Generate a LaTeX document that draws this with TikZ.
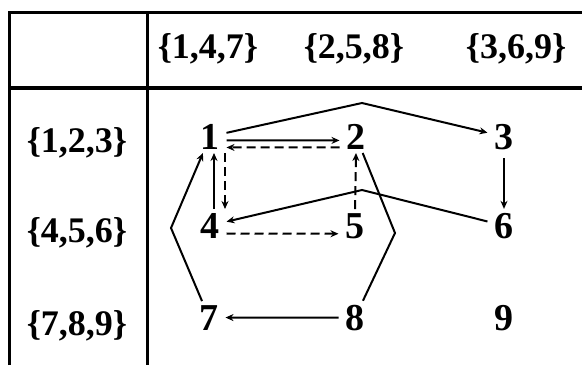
\documentclass[tikz,border=0pt]{standalone}
\usepackage{fontspec}
\setmainfont{Liberation Serif}
\usetikzlibrary{arrows.meta}

\begin{document}
\begin{tikzpicture}[x=1pt,y=-1pt,>={Stealth[length=8pt,width=7pt]},line width=2pt,
  vtx/.style={font=\fontsize{38}{40}\selectfont\bfseries,inner xsep=6pt,inner ysep=3pt,anchor=base},
  lbl/.style={font=\fontsize{36}{40}\selectfont\bfseries,anchor=base},
  dsh/.style={dash pattern=on 9pt off 5pt}]
\useasboundingbox (0,0) rectangle (582,365);
\draw[line width=3pt] (9,365) -- (9,12) -- (582,12);
\draw[line width=3pt] (147,12) -- (147,365);
\draw[line width=3.5pt] (9,88) -- (582,88);
\node[lbl] (c1) at (208,58) {\{1,4,7\}};
\node[lbl] (c2) at (354,58) {\{2,5,8\}};
\node[lbl] (c3) at (516,58) {\{3,6,9\}};
\node[lbl] (r1) at (77,152) {\{1,2,3\}};
\node[lbl] (r2) at (77,242) {\{4,5,6\}};
\node[lbl] (r3) at (77,335) {\{7,8,9\}};
\node[vtx] (n1) at (210,149) {1};
\node[vtx] (n2) at (356,149) {2};
\node[vtx] (n3) at (504,149) {3};
\node[vtx] (n4) at (210,238) {4};
\node[vtx] (n5) at (355,238) {5};
\node[vtx] (n6) at (504,238) {6};
\node[vtx] (n7) at (209,330) {7};
\node[vtx] (n8) at (355,330) {8};
\node[vtx] (n9) at (504,330) {9};
\coordinate (p13) at (362,103);
\coordinate (p64) at (362,190);
\coordinate (p71) at (171,228);
\coordinate (p28) at (395,233);
\draw[->] (n1) -- (p13) -- (n3);
\draw[->] ([yshift=-4pt]n1.east) -- ([yshift=-4pt]n2.west);
\draw[->,dsh] ([yshift=-11pt]n2.west) -- ([yshift=-11pt]n1.east);
\draw[->] ([xshift=4pt]n4.north) -- ([xshift=4pt]n1.south);
\draw[->,dsh] ([xshift=15pt]n1.south) -- ([xshift=15pt]n4.north);
\draw[->,dsh] (n5.north) -- (n2.south);
\draw[->,dsh] ([yshift=-8pt]n4.east) -- ([yshift=-8pt]n5.west);
\draw[->] (n6) -- (p64) -- (n4);
\draw[->,shorten <=5pt] (n3) -- (n6);
\draw[->] (n8) -- (n7);
\draw[->] (n7) -- (p71) -- (n1);
\draw (n2) -- (p28) -- (n8);
\end{tikzpicture}
\end{document}
